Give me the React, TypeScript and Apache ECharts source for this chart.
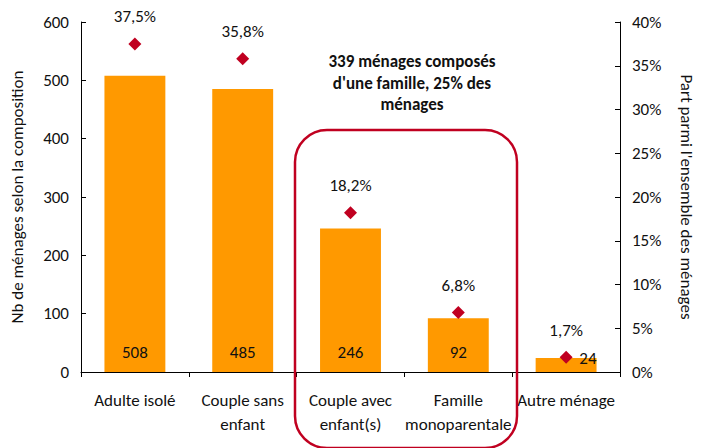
import React, { useEffect, useRef } from "react";
import * as echarts from "echarts";

const categories = ["Adulte isolé", "Couple sans\nenfant", "Couple avec\nenfant(s)", "Famille\nmonoparentale", "Autre ménage"];
const counts = [508, 485, 246, 92, 24];
const shares = [37.5, 35.8, 18.2, 6.8, 1.7];
const leftTicks = { min: 0, max: 600, interval: 100 };
const rightTicks = { min: 0, max: 40, interval: 5 };
const annotation = "339 ménages composés\nd'une famille, 25% des\nménages";

const FONT = "Carlito, Calibri, Lato, sans-serif";
const TXT = "#111111";
const FS = 17;

export default function App() {
  const ref = useRef<HTMLDivElement>(null);
  useEffect(() => {
    if (!ref.current) return;
    const chart = echarts.init(ref.current, null, { renderer: "svg" });
    const barData = counts.map((v, i) =>
      i === counts.length - 1
        ? {
            value: v,
            label: {
              position: ["100%", 0],
              align: "right",
              verticalAlign: "middle",
              offset: [0, 0],
            },
          }
        : v
    );
    chart.setOption({
      animation: false,
      textStyle: { fontFamily: FONT },
      grid: { left: 81, right: 82, top: 22, bottom: 76 },
      xAxis: {
        type: "category",
        data: categories,
        axisLine: { lineStyle: { color: "#000", width: 1 } },
        axisTick: { show: true, inside: false, length: 5, lineStyle: { color: "#000" } },
        axisLabel: { color: TXT, fontSize: FS, fontFamily: FONT, lineHeight: 24, margin: 16, interval: 0 },
      },
      yAxis: [
        {
          type: "value",
          ...leftTicks,
          name: "Nb de ménages selon la composition",
          nameLocation: "middle",
          nameGap: 55,
          nameRotate: 90,
          nameTextStyle: { color: TXT, fontSize: FS, fontFamily: FONT },
          axisLine: { show: true, lineStyle: { color: "#000" } },
          axisTick: { show: true, inside: true, length: 5, lineStyle: { color: "#000" } },
          axisLabel: { color: TXT, fontSize: FS, fontFamily: FONT, margin: 12 },
          splitLine: { show: false },
        },
        {
          type: "value",
          ...rightTicks,
          position: "right",
          name: "Part parmi l'ensemble des ménages",
          nameLocation: "middle",
          nameGap: 58,
          nameRotate: -90,
          nameTextStyle: { color: TXT, fontSize: FS, fontFamily: FONT },
          axisLine: { show: true, lineStyle: { color: "#000" } },
          axisTick: { show: true, inside: true, length: 5, lineStyle: { color: "#000" } },
          axisLabel: { color: TXT, fontSize: FS, fontFamily: FONT, margin: 12, formatter: "{value}%" },
          splitLine: { show: false },
        },
      ],
      series: [
        {
          type: "bar",
          data: barData,
          barWidth: "56.5%",
          itemStyle: { color: "#FF9900" },
          label: {
            show: true,
            position: ["50%", "100%"],
            align: "center",
            verticalAlign: "middle",
            offset: [0, -20],
            color: TXT,
            fontSize: FS,
            fontFamily: FONT,
          },
        },
        {
          type: "scatter",
          yAxisIndex: 1,
          data: shares,
          symbol: "diamond",
          symbolSize: [13, 13],
          itemStyle: { color: "#C00020", opacity: 1 },
          label: {
            show: true,
            position: "top",
            distance: 12,
            color: TXT,
            opacity: 1,
            fontSize: FS,
            fontFamily: FONT,
            formatter: (p: any) => p.value.toFixed(1).replace(".", ",") + "%",
          },
          z: 5,
        },
      ],
      graphic: [
        {
          type: "rect",
          shape: { x: 295, y: 130, width: 222, height: 318, r: 32 },
          style: { fill: "none", stroke: "#C00020", lineWidth: 2.5 },
          z: 10,
        },
        {
          type: "text",
          x: 412,
          y: 83,
          style: {
            text: annotation,
            fill: TXT,
            font: `bold ${FS}px ${FONT}`,
            align: "center",
            verticalAlign: "middle",
            lineHeight: 21.5,
          },
        },
      ],
    });
    return () => chart.dispose();
  }, []);
  return <div ref={ref} style={{ width: 703, height: 448, position: "absolute", left: 0, top: 0 }} />;
}
